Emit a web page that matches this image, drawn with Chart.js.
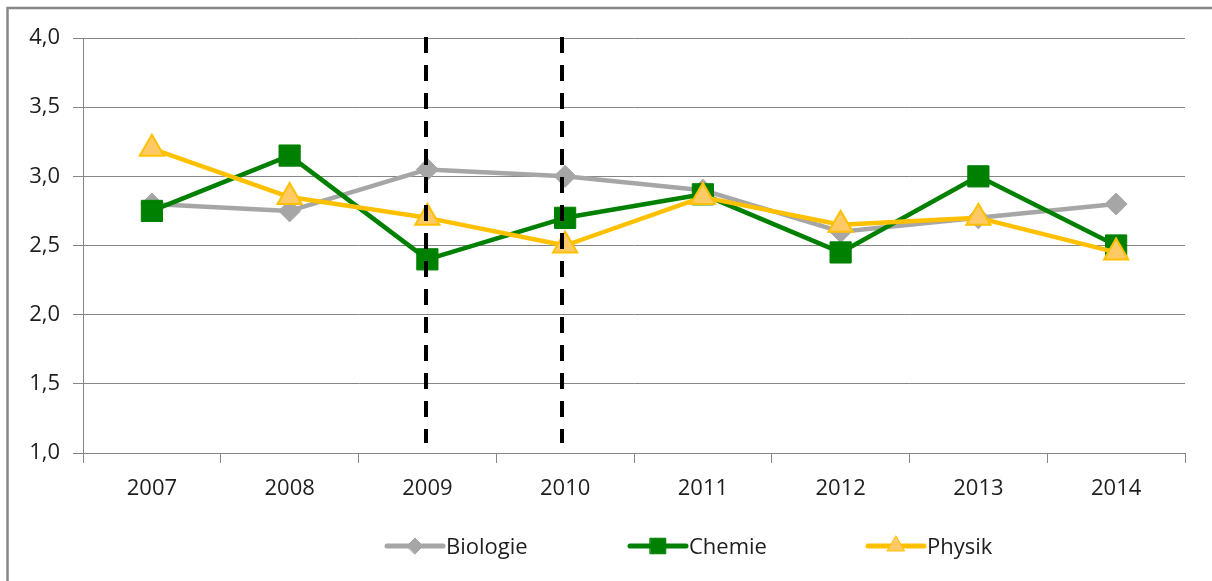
<!DOCTYPE html>
<html>
<head>
<meta charset="utf-8">
<script src="https://cdn.jsdelivr.net/npm/chart.js@4/dist/chart.umd.min.js"></script>
<style>
  html, body { margin: 0; padding: 0; background: #fff; }
  #wrap { width: 1212px; height: 581px; position: relative; }
</style>
</head>
<body>
<div id="wrap"><canvas id="line-chart" width="1212" height="581"></canvas></div>
<script>
const years = ["2007", "2008", "2009", "2010", "2011", "2012", "2013", "2014"]
const biologie = [2.8, 2.75, 3.05, 3.0, 2.9, 2.6, 2.7, 2.8]
const chemie = [2.75, 3.15, 2.4, 2.7, 2.87, 2.45, 3.0, 2.5]
const physik = [3.2, 2.85, 2.7, 2.5, 2.85, 2.65, 2.7, 2.45]
const markedYears = ["2009", "2010"]

const FONT = '"Open Sans", "Noto Sans", sans-serif'
const GRID = "#868686"
const TEXT = "#1e1e1e"

// frame round the whole chart (only top and left visible like the original)
const framePlugin = {
    id: "frame",
    beforeDraw(chart) {
        const ctx = chart.ctx
        ctx.save()
        ctx.strokeStyle = GRID
        ctx.lineWidth = 2.5
        ctx.strokeRect(7.5, 8, 1400, 800)
        ctx.restore()
    }
}

// black dashed marker lines at 2009 and 2010
const dashPlugin = {
    id: "dashes",
    afterDatasetsDraw(chart) {
        const { ctx, scales, chartArea } = chart
        ctx.save()
        ctx.strokeStyle = "#000"
        ctx.lineWidth = 4
        ctx.setLineDash([16, 12])
        markedYears.forEach((yr, i) => {
            const x = Math.round(scales.x.getPixelForValue(years.indexOf(yr))) - 1 - i * 2
            ctx.beginPath()
            ctx.moveTo(x, chartArea.top - 1)
            ctx.lineTo(x, chartArea.bottom - 10)
            ctx.stroke()
        })
        ctx.restore()
    }
}

// legend with line + marker like Excel
const legendX = [387, 630, 868]
const legendPlugin = {
    id: "excelLegend",
    afterDraw(chart) {
        const ctx = chart.ctx
        const y = 546
        ctx.save()
        chart.data.datasets.forEach((ds, i) => {
            const x0 = legendX[i]
            ctx.strokeStyle = ds.borderColor
            ctx.lineWidth = 5
            ctx.lineCap = "round"
            ctx.beginPath()
            ctx.moveTo(x0, y)
            ctx.lineTo(x0 + 56, y)
            ctx.stroke()
            ctx.fillStyle = ds.pointBackgroundColor
            ctx.strokeStyle = ds.pointBorderColor
            ctx.lineWidth = 1
            Chart.helpers.drawPoint(ctx, {
                pointStyle: ds.pointStyle,
                radius: ds.legendRadius,
                rotation: 0,
                borderWidth: 1
            }, x0 + 28, y)
            ctx.fillStyle = TEXT
            ctx.font = "22px " + FONT
            ctx.textBaseline = "alphabetic"
            ctx.textAlign = "left"
            ctx.fillText(ds.label, x0 + 59, y + 8)
        })
        ctx.restore()
    }
}

const chart = new Chart(document.getElementById("line-chart"), {
    type: "line",
    data: {
        labels: years,
        datasets: [
            {
                label: "Biologie",
                data: biologie,
                order: 2,
                borderColor: "#A6A6A6",
                borderWidth: 4.5,
                pointStyle: "rectRot",
                pointRadius: 11,
                pointBackgroundColor: "#A6A6A6",
                pointBorderColor: "#A6A6A6",
                pointBorderWidth: 1,
                legendRadius: 8
            },
            {
                label: "Chemie",
                data: chemie,
                order: 1,
                borderColor: "#008000",
                borderWidth: 4.5,
                pointStyle: "rect",
                pointRadius: 15,
                pointBackgroundColor: "#008000",
                pointBorderColor: "#008000",
                pointBorderWidth: 1,
                legendRadius: 11
            },
            {
                label: "Physik",
                data: physik,
                order: 0,
                borderColor: "#FFC000",
                borderWidth: 4.5,
                pointStyle: "triangle",
                pointRadius: 14,
                pointBackgroundColor: "#FFC966",
                pointBorderColor: "#FFC000",
                pointBorderWidth: 2,
                legendRadius: 10
            }
        ]
    },
    options: {
        responsive: false,
        animation: false,
        events: [],
        layout: { padding: { left: 0, top: 38, right: 27, bottom: 78 } },
        elements: {
            line: { tension: 0, borderJoinStyle: "round", borderCapStyle: "round" }
        },
        plugins: {
            legend: { display: false },
            tooltip: { enabled: false }
        },
        scales: {
            x: {
                offset: true,
                afterFit: (scale) => { scale.height = 50 },
                grid: {
                    offset: true,
                    drawOnChartArea: false,
                    drawTicks: true,
                    tickLength: 10,
                    color: GRID,
                    lineWidth: 1
                },
                border: { color: GRID, width: 1 },
                ticks: {
                    color: TEXT,
                    font: { family: FONT, size: 22 },
                    padding: 13,
                    maxRotation: 0
                }
            },
            y: {
                min: 1,
                max: 4,
                afterFit: (scale) => { scale.width = 83 },
                grid: {
                    color: GRID,
                    lineWidth: 1,
                    drawTicks: true,
                    tickLength: 10
                },
                border: { color: GRID, width: 1 },
                ticks: {
                    stepSize: 0.5,
                    color: TEXT,
                    font: { family: FONT, size: 22 },
                    padding: 13,
                    callback: (v) => v.toFixed(1).replace(".", ",")
                }
            }
        }
    },
    plugins: [framePlugin, dashPlugin, legendPlugin]
})
</script>
</body>
</html>
